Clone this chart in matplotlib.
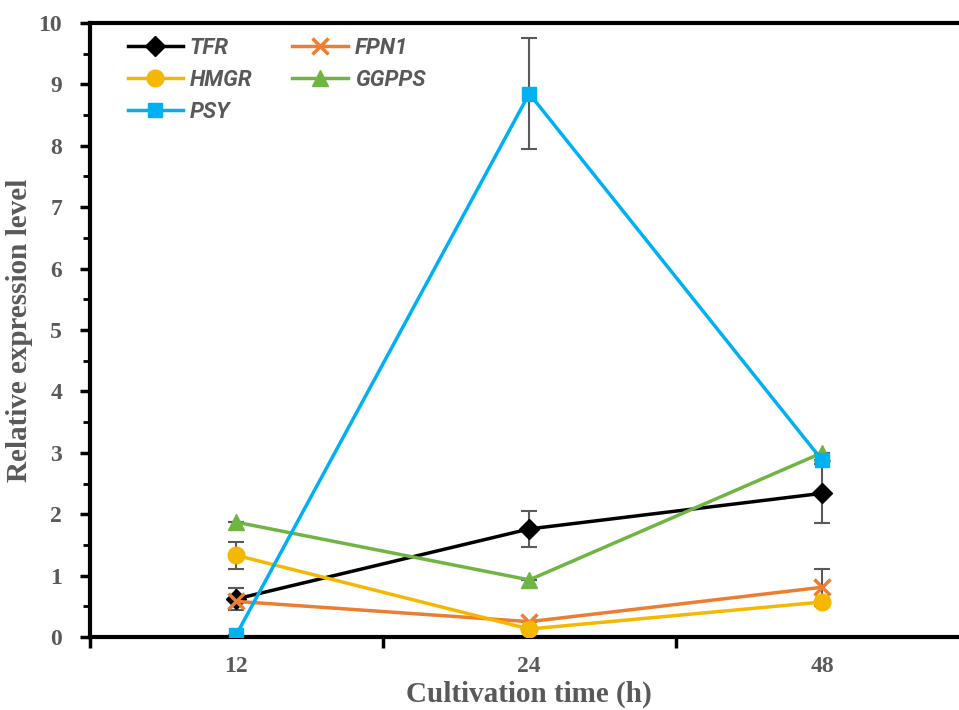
import numpy as np
from matplotlib import pyplot as plt

# sampling times and values
times = ['12', '24', '48']

tfr = [0.62, 1.76, 2.34]
tfr_err = [0.18, 0.29, 0.48]

fpn1 = [0.58, 0.25, 0.81]
fpn1_err = [0.0, 0.0, 0.30]

hmgr = [1.33, 0.13, 0.57]
hmgr_err = [0.22, 0.0, 0.0]

ggpps = [1.87, 0.93, 3.0]
ggpps_err = [0.0, 0.0, 0.0]

psy = [0.04, 8.85, 2.88]
psy_err = [0.0, 0.91, 0.0]

grey = '#595959'
serif = ['Liberation Serif', 'DejaVu Serif']

fig = plt.figure(figsize=(9.59, 7.10), dpi=100)
ax = fig.add_axes([90/959, 73/710, 878.5/959, 614/710])

x = np.arange(len(times))

series = [
    ('TFR', tfr, tfr_err, 'black', 'D', 10),
    ('FPN1', fpn1, fpn1_err, '#ED7D31', 'x', 11),
    ('HMGR', hmgr, hmgr_err, '#F5B800', 'o', 12),
    ('GGPPS', ggpps, ggpps_err, '#70B443', '^', 12),
    ('PSY', psy, psy_err, '#00B0F0', 's', 10),
]

# error bars first, lines on top
for name, y, e, c, m, ms in series:
    ax.errorbar(x, y, yerr=e, fmt='none', ecolor=grey, elinewidth=1.5,
                capsize=6, capthick=1.5, zorder=2)

lines = {}
for name, y, e, c, m, ms in series:
    l, = ax.plot(x, y, color=c, marker=m, markersize=ms, lw=2.5,
                 mew=2.5 if m == 'x' else 1, label=name, zorder=3)
    lines[name] = l

ax.set_xlim(-0.5, 2.5)
ax.set_ylim(0, 10)

ax.set_xticks([-0.5, 0.5, 1.5, 2.5])
ax.set_xticklabels([])
ax.set_xticks(x, minor=True)
ax.set_xticklabels(times, minor=True)
ax.tick_params(axis='x', which='major', direction='out', length=8, width=2.5)
ax.tick_params(axis='x', which='minor', length=0, pad=14)

ax.set_yticks(np.arange(0, 11, 1))
ax.set_yticks(np.arange(0.5, 10, 1), minor=True)
ax.tick_params(axis='y', which='major', direction='out', length=7, width=2.5, pad=13)
ax.tick_params(axis='y', which='minor', direction='out', length=5, width=2)

for lab in ax.get_xticklabels(minor=True) + ax.get_yticklabels():
    lab.set_family(serif)
    lab.set_fontweight('bold')
    lab.set_fontsize(17)
    lab.set_color(grey)

for s in ['left', 'bottom', 'top']:
    ax.spines[s].set_linewidth(3)
ax.spines['right'].set_visible(False)

ax.set_xlabel('Cultivation time (h)', family=serif, fontweight='bold',
              fontsize=21, color=grey, labelpad=2)
ax.set_ylabel('Relative expression level', family=serif, fontweight='bold',
              fontsize=21, color=grey, labelpad=4)

# legend rows: TFR/FPN1, HMGR/GGPPS, PSY (columns filled top-down)
order = ['TFR', 'HMGR', 'PSY', 'FPN1', 'GGPPS']
leg = ax.legend([lines[n] for n in order], order, ncol=2, loc='upper left',
                bbox_to_anchor=(0.02, 1.01),
                frameon=False, handlelength=2.5, columnspacing=1.8,
                labelspacing=0.45, handletextpad=0.3,
                prop={'family': ['Roboto', 'DejaVu Sans'], 'weight': 'bold',
                      'style': 'italic', 'size': 16})
for t in leg.get_texts():
    t.set_color(grey)

fig.savefig('out.png', dpi=100)
